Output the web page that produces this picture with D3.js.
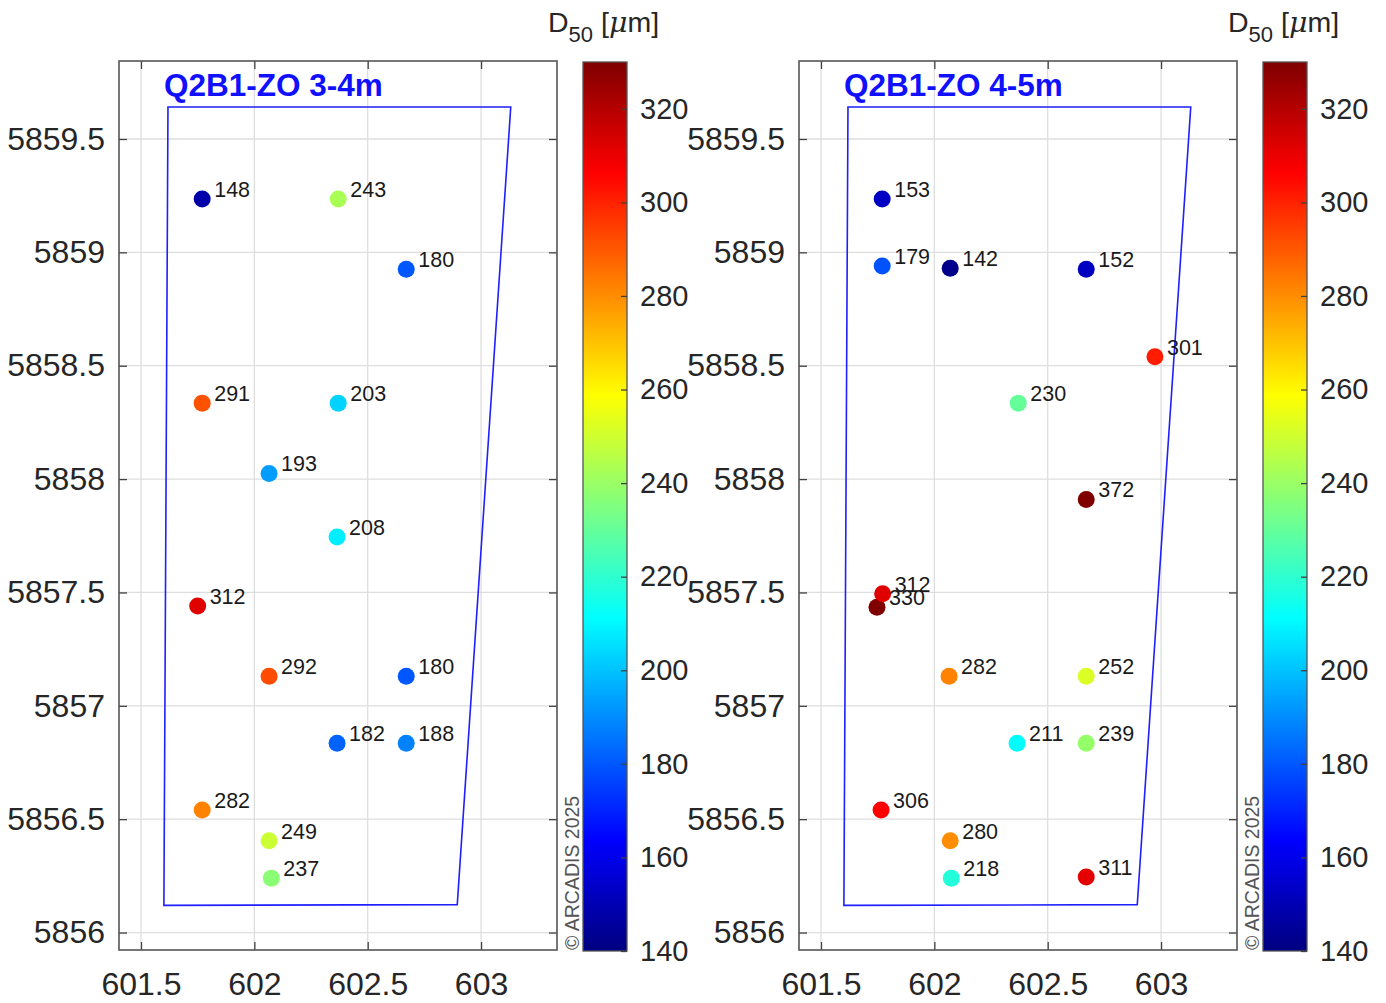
<!DOCTYPE html>
<html>
<head>
<meta charset="utf-8">
<script src="https://cdn.jsdelivr.net/npm/d3@7"></script>
<style>
	body { margin: 0; background: white; }
	text { font-family: "Liberation Sans", Arial, sans-serif; }
</style>
</head>
<body>
<script>
// panel titles
let titles = ['Q2B1-ZO 3-4m', 'Q2B1-ZO 4-5m']

// 3-4m samples
let east34 = 	[601.77, 602.37, 602.67, 601.77, 602.37, 602.065, 602.365, 601.75, 602.065, 602.67, 602.365, 602.67, 601.77, 602.065, 602.075]
let north34 = 	[5859.235, 5859.235, 5858.925, 5858.335, 5858.335, 5858.025, 5857.745, 5857.44, 5857.13, 5857.13, 5856.835, 5856.835, 5856.54, 5856.405, 5856.24]
let d50_34 = 	[148, 243, 180, 291, 203, 193, 208, 312, 292, 180, 182, 188, 282, 249, 237]

// 4-5m samples
let east45 = 	[601.77, 601.77, 602.07, 602.67, 602.973, 602.37, 602.67, 601.747, 601.772, 602.065, 602.67, 602.365, 602.67, 601.765, 602.07, 602.075, 602.67]
let north45 = 	[5859.235, 5858.94, 5858.93, 5858.925, 5858.54, 5858.335, 5857.91, 5857.435, 5857.494, 5857.13, 5857.13, 5856.835, 5856.835, 5856.54, 5856.405, 5856.24, 5856.245]
let d50_45 = 	[153, 179, 142, 152, 301, 230, 372, 330, 312, 282, 252, 211, 239, 306, 280, 218, 311]

// survey area outline
let areaEast = 	[601.619, 603.131, 602.895, 601.601]
let areaNorth = [5859.641, 5859.641, 5856.123, 5856.12]

let xTicks = 	[601.5, 602, 602.5, 603]
let yTicks = 	[5856, 5856.5, 5857, 5857.5, 5858, 5858.5, 5859, 5859.5]
let cTicks = 	[140, 160, 180, 200, 220, 240, 260, 280, 300, 320]
let cLim = 		[140, 330]

let svg = d3.select('body').append('svg')
	.attr('width', 1386).attr('height', 1003)

let jet = function(t) {
	let c = v => Math.round(255*Math.max(0, Math.min(1, v)))
	let r = c(Math.min(4*t - 1.5, -4*t + 4.5))
	let g = c(Math.min(4*t - 0.5, -4*t + 3.5))
	let b = c(Math.min(4*t + 0.5, -4*t + 2.5))
	return `rgb(${r},${g},${b})`
}
let color = function(v) {
	let t = (v - cLim[0])/(cLim[1] - cLim[0])
	return jet(Math.max(0, Math.min(1, t)))
}

let defs = svg.append('defs')
let grad = defs.append('linearGradient').attr('id', 'jetGrad')
	.attr('x1', 0).attr('x2', 0).attr('y1', 1).attr('y2', 0)
d3.range(0, 65).forEach(i => {
	grad.append('stop').attr('offset', i/64).attr('stop-color', jet(i/64))
})

let drawPanel = function(ox, title, east, north, vals) {
	let x0 = ox + 119, x1 = ox + 557
	let y0 = 61, y1 = 950

	let x = d3.scaleLinear().domain([601.403, 603.335]).range([x0, x1])
	let y = d3.scaleLinear().domain([5855.923, 5859.844]).range([y1, y0])

	let g = svg.append('g')

	// grid
	g.selectAll('.gx').data(xTicks).enter().append('line')
		.attr('x1', d => x(d)).attr('x2', d => x(d))
		.attr('y1', y0).attr('y2', y1)
		.style('stroke', '#dedede').attr('stroke-width', 1.3)
	g.selectAll('.gy').data(yTicks).enter().append('line')
		.attr('x1', x0).attr('x2', x1)
		.attr('y1', d => y(d)).attr('y2', d => y(d))
		.style('stroke', '#dedede').attr('stroke-width', 1.3)

	let styleAxis = function(sel, fs) {
		sel.select('.domain').remove()
		sel.selectAll('line').style('stroke', '#404040').attr('stroke-width', 1.3)
		sel.selectAll('text').style('font-size', fs + 'px').style('fill', '#262626')
	}

	g.append('g').attr('transform', `translate(0,${y1})`)
		.call(d3.axisBottom(x).tickValues(xTicks).tickSize(-8).tickPadding(22).tickFormat(d3.format('')))
		.call(s => styleAxis(s, 32))
	g.append('g').attr('transform', `translate(0,${y0})`)
		.call(d3.axisTop(x).tickValues(xTicks).tickSize(-8).tickFormat(''))
		.call(s => styleAxis(s, 32))
	g.append('g').attr('transform', `translate(${x0},0)`)
		.call(d3.axisLeft(y).tickValues(yTicks).tickSize(-8).tickPadding(14).tickFormat(d3.format('')))
		.call(s => styleAxis(s, 32))
	g.append('g').attr('transform', `translate(${x1},0)`)
		.call(d3.axisRight(y).tickValues(yTicks).tickSize(-8).tickFormat(''))
		.call(s => styleAxis(s, 32))

	g.append('rect')
		.attr('x', x0).attr('y', y0).attr('width', x1 - x0).attr('height', y1 - y0)
		.style('fill', 'none').style('stroke', '#555').attr('stroke-width', 1.6)

	// survey area
	let pts = areaEast.map((e, i) => [x(e), y(areaNorth[i])])
	g.append('path')
		.attr('d', d3.line()(pts) + 'Z')
		.style('fill', 'none').style('stroke', '#1f1fff').attr('stroke-width', 1.6)

	g.append('text')
		.attr('x', ox + 164).attr('y', 96)
		.style('font-size', '31.5px').style('font-weight', 'bold').style('fill', '#1010ff')
		.text(title)

	let data = east.map((e, i) => ({e: e, n: north[i], v: vals[i]}))
	g.selectAll('.pt').data(data).enter().append('circle')
		.attr('cx', d => x(d.e)).attr('cy', d => y(d.n))
		.attr('r', 8.5).style('fill', d => color(d.v))
	g.selectAll('.lbl').data(data).enter().append('text')
		.attr('x', d => x(d.e) + 12).attr('y', d => y(d.n) - 2)
		.style('font-size', '21.5px').style('fill', '#1a1a1a')
		.text(d => d.v)

	g.append('text')
		.attr('transform', `translate(${ox + 579},${y1}) rotate(-90)`)
		.style('font-size', '19.5px').style('fill', '#555')
		.text('\u00a9 ARCADIS 2025')

	// colorbar
	let cx0 = ox + 583, cw = 44
	let c = d3.scaleLinear().domain(cLim).range([951, 62])
	g.append('rect')
		.attr('x', cx0).attr('y', 62).attr('width', cw).attr('height', 951 - 62)
		.style('fill', 'url(#jetGrad)').style('stroke', '#555').attr('stroke-width', 1.3)
	g.append('g').attr('transform', `translate(${cx0 + cw},0)`)
		.call(d3.axisRight(c).tickValues(cTicks).tickSize(-6).tickPadding(13))
		.call(s => styleAxis(s, 29))

	let lab = g.append('text')
		.attr('x', ox + 548).attr('y', 32)
		.style('font-size', '28.5px').style('fill', '#262626')
	lab.append('tspan').text('D')
	lab.append('tspan').attr('dy', 10).style('font-size', '22px').text('50')
	lab.append('tspan').attr('dy', -10).text(' [')
	lab.append('tspan').style('font-style', 'italic').style('font-family', 'DejaVu Serif, serif').text('\u03bc')
	lab.append('tspan').text('m]')
}

drawPanel(0, titles[0], east34, north34, d50_34)
drawPanel(680, titles[1], east45, north45, d50_45)
</script>
</body>
</html>
